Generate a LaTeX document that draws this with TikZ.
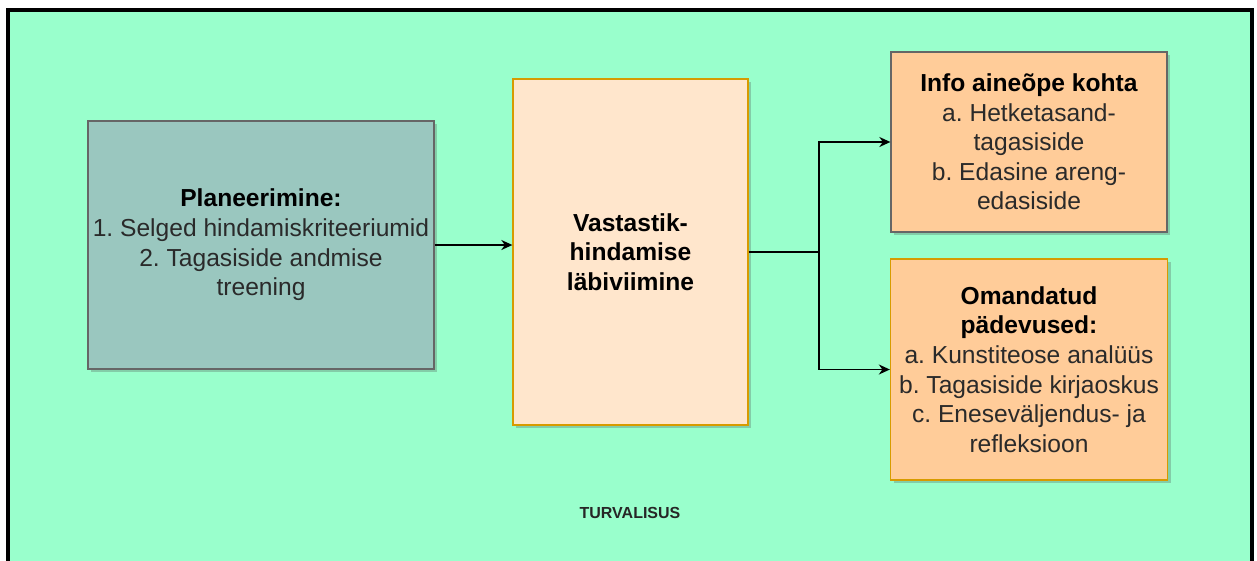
\documentclass[tikz,border=0pt]{standalone}
\usepackage{fontspec}
\setmainfont{Liberation Sans}
\usetikzlibrary{arrows.meta,shadows}
\definecolor{groundgreen}{HTML}{99FFCC}
\definecolor{planfill}{HTML}{9AC7BF}
\definecolor{peachfill}{HTML}{FFE6CC}
\definecolor{orangefill}{HTML}{FFCC99}
\definecolor{orangeline}{HTML}{D79B00}
\definecolor{greyline}{HTML}{666666}
\definecolor{bodytext}{HTML}{2A2A2A}
\tikzset{
  boxbase/.style={rectangle, line width=1.3pt, align=center, inner sep=2pt,
    text=bodytext, font=\fontsize{24.6}{29.6}\selectfont\frenchspacing,
    drop shadow={shadow xshift=3pt, shadow yshift=-3pt, opacity=0.28, fill=black!70}},
  planbox/.style={boxbase, draw=greyline, fill=planfill},
  runbox/.style={boxbase, draw=orangeline, fill=peachfill},
  infobox/.style={boxbase, draw=greyline, fill=orangefill},
  skillbox/.style={boxbase, draw=orangeline, fill=orangefill},
  flow/.style={line width=1.5pt, -{Stealth[length=11pt,width=10pt,inset=3.5pt]}},
  flowline/.style={line width=1.5pt},
}
\newcommand{\hd}[1]{\textcolor{black}{\textbf{#1}}}
\begin{document}
\begin{tikzpicture}[x=1pt,y=-1pt]
\useasboundingbox (0,0) rectangle (1257,560);
\clip (0,0) rectangle (1257,560);
% safety area
\draw[line width=4.5pt, fill=groundgreen] (8,10) rectangle (1252,620);

\node[planbox, minimum width=346pt, minimum height=248pt] (plan) at (261,245)
  {\hd{Planeerimine:}\\1. Selged hindamiskriteeriumid\\2. Tagasiside andmise\\treening};
\node[runbox, minimum width=235pt, minimum height=346pt] (run) at (630.5,252)
  {\hd{Vastastik-}\\\hd{hindamise}\\\hd{läbiviimine}};
\node[infobox, minimum width=276pt, minimum height=180pt] (info) at (1029,142)
  {\hd{Info aineõpe kohta}\\a. Hetketasand-\\tagasiside\\b. Edasine areng-\\edasiside};
\node[skillbox, minimum width=277pt, minimum height=221pt] (skill) at (1029,369.5)
  {\hd{Omandatud}\\\hd{pädevused:}\\a. Kunstiteose analüüs\\b. Tagasiside kirjaoskus\\c. Eneseväljendus- ja\\refleksioon};

\node[font=\fontsize{16}{19}\selectfont\bfseries, text=black!85] (safe) at (630,513) {TURVALISUS};

% connectors
\draw[flow] (plan.east) -- (plan.east -| run.west);
\coordinate (split) at (819,252);
\draw[flowline] (run.east) -- (split);
\draw[flow] (split) |- (info.west);
\draw[flow] (split) |- (skill.west);
\end{tikzpicture}
\end{document}
